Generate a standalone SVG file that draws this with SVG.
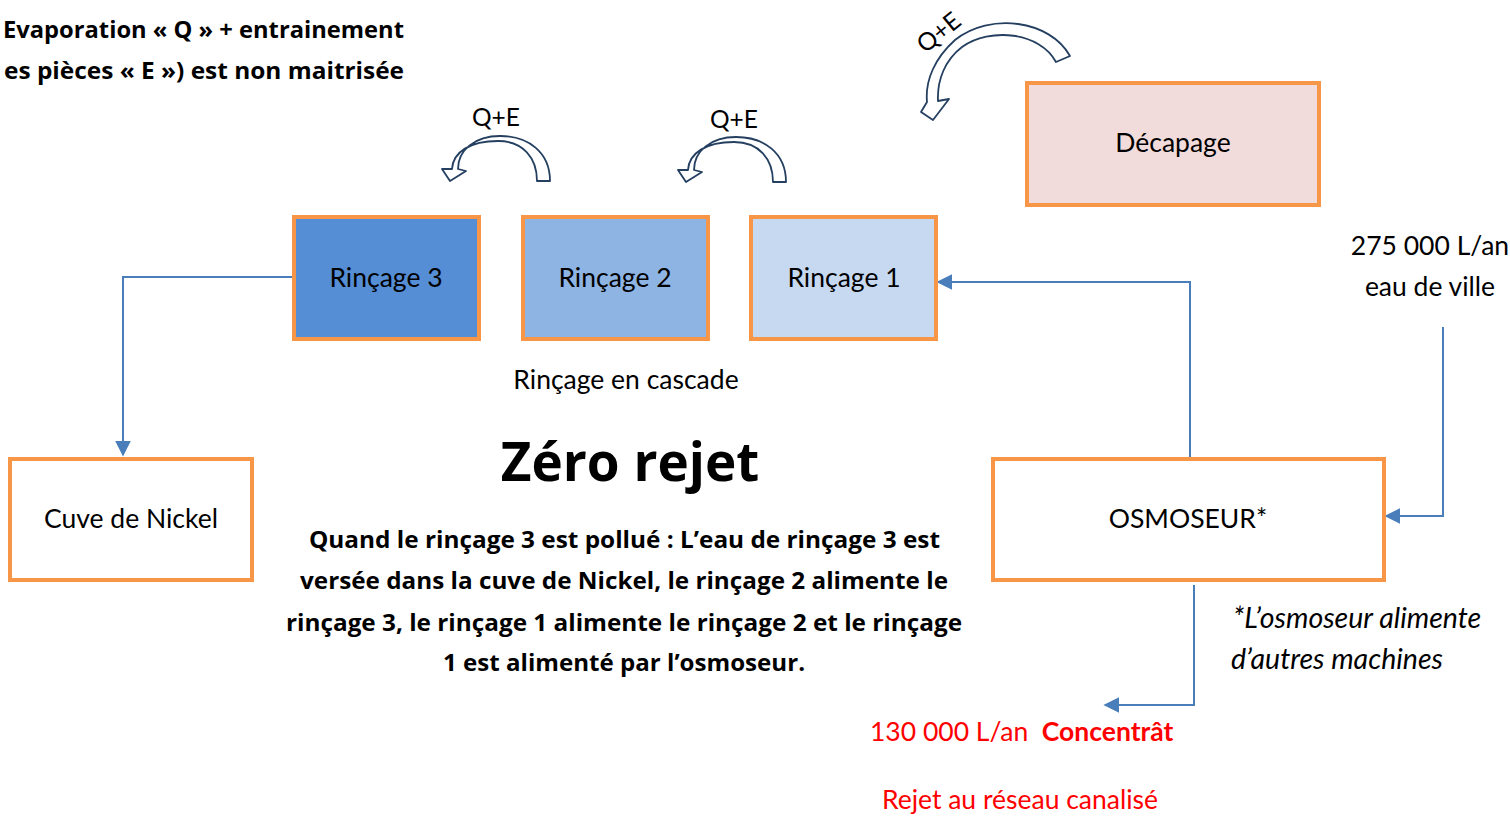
<svg xmlns="http://www.w3.org/2000/svg" width="1510" height="816" viewBox="0 0 1510 816">
<defs>
<style>
.box{stroke:#F79646;stroke-width:4}
.t{font-family:Lato,"Open Sans",sans-serif;font-size:26.5px;fill:#000}
.c{text-anchor:middle}
.b{font-family:"Open Sans",Lato,sans-serif;font-weight:bold;font-size:23.5px}
.conn{fill:none;stroke:#4A7EBB;stroke-width:2}
.curv{fill:#fff;stroke:#243F60;stroke-width:1.8;stroke-linejoin:round}
.red{fill:#FF0000}
</style>
<marker id="ah2" viewBox="0 0 10 10" refX="9" refY="5" markerWidth="16" markerHeight="16" markerUnits="userSpaceOnUse" orient="auto">
<path d="M0,0 L10,5 L0,10 Z" fill="#4A7EBB"/>
</marker>
</defs>
<rect width="1510" height="816" fill="#fff"/>

<g id="connectors">
<path class="conn" d="M294,277 H123 V455" marker-end="url(#ah2)"/>
<path class="conn" d="M1190,457 V282 H938" marker-end="url(#ah2)"/>
<path class="conn" d="M1443,327 V516 H1386" marker-end="url(#ah2)"/>
<path class="conn" d="M1194,585 V705 H1105" marker-end="url(#ah2)"/>
</g>

<g id="curved-arrows">
<path class="curv" d="M550,181 C550,152 528,136 500,136 C475,136 458,150 458,169 L466,171 L450,181 L442,169 L452,169 C453,152 470,141 498,141 C523,141 537,158 537,181 Z"/>
<path class="curv" transform="translate(236,1)" d="M550,181 C550,152 528,136 500,136 C475,136 458,150 458,169 L466,171 L450,181 L442,169 L452,169 C453,152 470,141 498,141 C523,141 537,158 537,181 Z"/>
<path class="curv" d="M1070,56 C1050,20 990,12 955,40 C935,58 925,80 927,102 L921,112 L933,120 L949,99 L938,101 C937,80 945,60 962,47 C990,27 1040,32 1056,62 Z"/>
<text class="t c" style="font-size:24.5px" x="496" y="126">Q+E</text>
<text class="t c" style="font-size:24.5px" x="734" y="128">Q+E</text>
<text class="t c" style="font-size:24.5px" transform="translate(944,39) rotate(-39)" x="0" y="0">Q+E</text>
</g>

<g id="rincage3">
<rect class="box" x="294" y="217" width="185" height="122" fill="#558ED5"/>
<text class="t c" x="386" y="287">Rinçage 3</text>
</g>
<g id="rincage2">
<rect class="box" x="523" y="217" width="185" height="122" fill="#8EB4E3"/>
<text class="t c" x="615" y="287">Rinçage 2</text>
</g>
<g id="rincage1">
<rect class="box" x="751" y="217" width="185" height="122" fill="#C6D9F1"/>
<text class="t c" x="844" y="287">Rinçage 1</text>
</g>
<g id="decapage">
<rect class="box" x="1027" y="83" width="292" height="122" fill="#F2DCDB"/>
<text class="t c" x="1173" y="152">Décapage</text>
</g>
<g id="cuve-nickel">
<rect class="box" x="10" y="459" width="242" height="121" fill="#fff"/>
<text class="t c" x="131" y="528">Cuve de Nickel</text>
</g>
<g id="osmoseur">
<rect class="box" x="993" y="459" width="391" height="121" fill="#fff"/>
<text class="t c" x="1188" y="528">OSMOSEUR*</text>
</g>

<g id="labels">
<text class="b" text-anchor="end" x="404" y="38" textLength="401" lengthAdjust="spacingAndGlyphs">Evaporation « Q » + entrainement</text>
<text class="b" text-anchor="end" x="404" y="79" textLength="400" lengthAdjust="spacingAndGlyphs">es pièces « E ») est non maitrisée</text>
<text class="t c" x="626" y="389">Rinçage en cascade</text>
<text class="b" text-anchor="middle" x="630" y="481" style="font-size:53px">Zéro rejet</text>
<text class="b" text-anchor="middle" x="624.5" y="548" textLength="631" lengthAdjust="spacingAndGlyphs">Quand le rinçage 3 est pollué : L’eau de rinçage 3 est</text>
<text class="b" text-anchor="middle" x="624" y="589" textLength="648" lengthAdjust="spacingAndGlyphs">versée dans la cuve de Nickel, le rinçage 2 alimente le</text>
<text class="b" text-anchor="middle" x="624" y="631" textLength="676" lengthAdjust="spacingAndGlyphs">rinçage 3, le rinçage 1 alimente le rinçage 2 et le rinçage</text>
<text class="b" text-anchor="middle" x="624" y="671" textLength="362" lengthAdjust="spacingAndGlyphs">1 est alimenté par l’osmoseur.</text>
<text class="t c" x="1430" y="255">275 000 L/an</text>
<text class="t c" x="1430" y="296">eau de ville</text>
<text class="t" x="1233" y="628" font-style="italic" style="font-size:28.5px">*L’osmoseur alimente</text>
<text class="t" x="1231" y="669" font-style="italic" style="font-size:28.5px">d’autres machines</text>
<text class="t red" x="870" y="741" xml:space="preserve">130 000 L/an  <tspan font-weight="bold">Concentrât</tspan></text>
<text class="t c red" x="1020" y="809">Rejet au réseau canalisé</text>
</g>
</svg>
